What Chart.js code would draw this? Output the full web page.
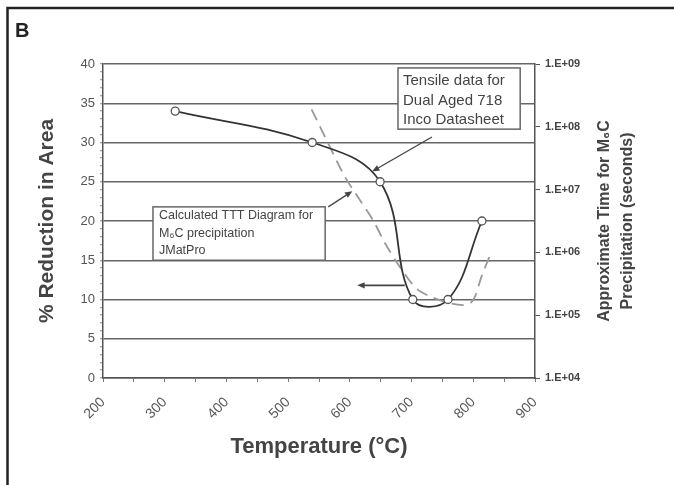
<!DOCTYPE html>
<html>
<head>
<meta charset="utf-8">
<title>Reduction in Area vs Temperature</title>
<script src="https://cdn.jsdelivr.net/npm/chart.js@4.4.1/dist/chart.umd.min.js"></script>
<style>
    body { margin: 0; background: #fff; }
    #wrap { position: relative; width: 674px; height: 485px; }
</style>
</head>
<body>
<div id="wrap"><canvas id="chart"></canvas></div>
<script>
// Tensile data for dual aged 718 (left axis, % reduction in area).
const tensileTemps = [317, 539, 649, 702, 759, 814];
const reductionInArea = [34, 30, 25, 10, 10, 20];

// Calculated TTT curve, JMatPro (right axis, seconds).
const tttTemps = [538, 568, 592, 612, 638, 657, 683, 709, 735, 762, 783, 795, 803, 814, 827];
const tttTimes = [1.9e8, 4.7e7, 1.6e7, 7.9e6, 3.2e6, 1.4e6, 5.5e5, 2.6e5, 1.9e5, 1.55e5, 1.45e5, 1.55e5, 2.0e5, 4.3e5, 8.9e5];

// Decades shown on the right axis.
const timeTicks = [1e4, 1e5, 1e6, 1e7, 1e8, 1e9];

const FONT = "'Liberation Sans', Arial, sans-serif";

/**
 * Draws a line with a small filled arrow head at (x2, y2).
 */
function arrow(ctx, x1, y1, x2, y2) {
    const a = Math.atan2(y2 - y1, x2 - x1);
    const len = 8;
    ctx.beginPath();
    ctx.moveTo(x1, y1);
    ctx.lineTo(x2 - Math.cos(a) * 4, y2 - Math.sin(a) * 4);
    ctx.stroke();
    ctx.beginPath();
    ctx.moveTo(x2, y2);
    ctx.lineTo(x2 - len * Math.cos(a - 0.4), y2 - len * Math.sin(a - 0.4));
    ctx.lineTo(x2 - len * Math.cos(a + 0.4), y2 - len * Math.sin(a + 0.4));
    ctx.closePath();
    ctx.fill();
}

/**
 * White box with a grey border and some lines of text.
 */
function textBox(ctx, x0, y0, x1, y1, lines, size, gap, pad, first) {
    ctx.fillStyle = "#fff";
    ctx.fillRect(x0, y0, x1 - x0, y1 - y0);
    ctx.strokeStyle = "#666";
    ctx.lineWidth = 1.5;
    ctx.strokeRect(x0, y0, x1 - x0, y1 - y0);
    ctx.fillStyle = "#444";
    ctx.font = size + "px " + FONT;
    ctx.textAlign = "left";
    ctx.textBaseline = "middle";
    lines.forEach((line, i) => {
        ctx.fillText(line, x0 + pad, y0 + first + i * gap);
    });
}

const annotations = {
    id: "annotations",
    afterDraw(chart) {
        const { ctx, chartArea, scales: { x, y } } = chart;
        const px = (t) => x.getPixelForValue(t);
        const py = (v) => y.getPixelForValue(v);
        ctx.save();

        // frame round the figure
        ctx.strokeStyle = "#222";
        ctx.lineWidth = 2.5;
        ctx.beginPath();
        ctx.moveTo(7.5, 485);
        ctx.lineTo(7.5, 8);
        ctx.lineTo(674, 8);
        ctx.stroke();

        // panel letter
        ctx.fillStyle = "#222";
        ctx.font = "bold 20px " + FONT;
        ctx.textAlign = "left";
        ctx.textBaseline = "alphabetic";
        ctx.fillText("B", 15, 37);

        // right axis title, reads bottom to top
        ctx.save();
        ctx.translate(chartArea.right + 81, (chartArea.top + chartArea.bottom) / 2);
        ctx.rotate(-Math.PI / 2);
        ctx.fillStyle = "#444";
        ctx.font = "bold 16px " + FONT;
        ctx.textAlign = "center";
        ctx.textBaseline = "middle";
        ctx.fillText("Approximate Time for M\u2086C", 0, -11);
        ctx.fillText("Precipitation (seconds)", 0, 12);
        ctx.restore();

        // callout boxes
        textBox(ctx, px(678), py(39.5), px(876), py(31.7),
            ["Tensile data for", "Dual Aged 718", "Inco Datasheet"], 15, 19.5, 5, 13);
        textBox(ctx, px(281), py(21.8), px(560), py(15.0),
            ["Calculated TTT Diagram for", "M\u2086C precipitation", "JMatPro"], 12.5, 17.5, 6, 9);

        // arrows
        ctx.strokeStyle = "#444";
        ctx.fillStyle = "#444";
        ctx.lineWidth = 1.3;
        arrow(ctx, px(733), py(30.7), px(636), py(26.3));
        arrow(ctx, px(565), py(21.8), px(604), py(23.8));
        ctx.lineWidth = 1.8;
        arrow(ctx, px(689), py(11.8), px(612), py(11.8));
        ctx.restore();
    },
};

const config = {
    type: "scatter",
    data: {
        datasets: [
            {
                label: "Tensile data",
                data: tensileTemps.map((t, i) => ({ x: t, y: reductionInArea[i] })),
                yAxisID: "y",
                showLine: true,
                tension: 0.4,
                borderColor: "#333",
                borderWidth: 1.8,
                pointRadius: 4,
                pointBorderWidth: 1.3,
                pointBorderColor: "#555",
                pointBackgroundColor: "#fff",
            },
            {
                label: "TTT",
                data: tttTemps.map((t, i) => ({ x: t, y: tttTimes[i] })),
                yAxisID: "y2",
                showLine: true,
                tension: 0.3,
                borderColor: "#999",
                borderWidth: 1.8,
                borderDash: [12, 7],
                pointRadius: 0,
            },
        ],
    },
    options: {
        responsive: true,
        maintainAspectRatio: false,
        animation: false,
        layout: { padding: { top: 64, left: 0, right: 0, bottom: 0 } },
        plugins: {
            legend: { display: false },
            tooltip: { enabled: false },
        },
        scales: {
            x: {
                type: "linear",
                min: 200,
                max: 900,
                afterFit: (s) => { s.height = 107; },
                ticks: {
                    stepSize: 50,
                    autoSkip: false,
                    minRotation: 45,
                    maxRotation: 45,
                    callback: (v) => (v % 100 === 0 ? v : ""),
                    color: "#555",
                    font: { family: FONT, size: 14 },
                    padding: 12,
                },
                grid: { drawOnChartArea: false, tickLength: 4, color: "#777" },
                border: { color: "#555", width: 1.5 },
                title: {
                    display: true,
                    text: "Temperature (°C)",
                    color: "#444",
                    font: { family: FONT, size: 22, weight: "bold" },
                    padding: { top: 0, bottom: 25 },
                },
            },
            y: {
                position: "left",
                min: 0,
                max: 40,
                afterFit: (s) => { s.width = 103; },
                ticks: {
                    stepSize: 1,
                    autoSkip: false,
                    callback: (v) => (v % 5 === 0 ? v : ""),
                    color: "#555",
                    font: { family: FONT, size: 13 },
                    padding: 5,
                },
                grid: {
                    color: (c) => (c.tick && c.tick.value % 5 === 0 ? "#666" : "rgba(0,0,0,0)"),
                    lineWidth: 1.5,
                    tickColor: "#888",
                    tickWidth: 1,
                    tickLength: 3,
                },
                border: { color: "#555", width: 1.5 },
                title: {
                    display: true,
                    text: "% Reduction in Area",
                    color: "#444",
                    font: { family: FONT, size: 21, weight: "bold" },
                    padding: { top: 35, bottom: 0 },
                },
            },
            y2: {
                type: "logarithmic",
                position: "right",
                min: 1e4,
                max: 1e9,
                afterFit: (s) => { s.width = 139; },
                afterBuildTicks: (s) => { s.ticks = timeTicks.map((v) => ({ value: v })); },
                ticks: {
                    callback: (v) => "1.E+" + String(Math.round(Math.log10(v))).padStart(2, "0"),
                    color: "#444",
                    font: { family: FONT, size: 11, weight: "bold" },
                    padding: 5,
                },
                grid: { drawOnChartArea: false, tickLength: 5, color: "#555" },
                border: { color: "#555", width: 1.5 },
            },
        },
    },
    plugins: [annotations],
};

new Chart(document.getElementById("chart"), config);
</script>
</body>
</html>
